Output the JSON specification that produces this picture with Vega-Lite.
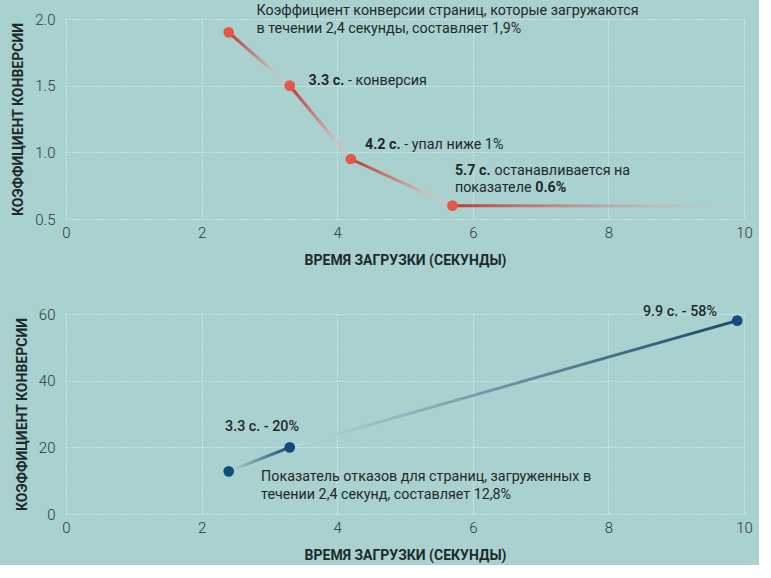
{
  "$schema": "https://vega.github.io/schema/vega-lite/v6.json",
  "background": "#a9d1d0",
  "padding": {"left": 11, "top": 4, "right": 6, "bottom": 3},
  "spacing": 38,
  "config": {
    "view": {"stroke": null},
    "font": "Roboto",
    "axis": {
      "domain": false,
      "ticks": false,
      "grid": true,
      "gridColor": "#ffffff",
      "gridDash": [1, 2],
      "gridOpacity": 0.85,
      "gridWidth": 1,
      "labelFont": "Roboto",
      "labelFontWeight": 300,
      "labelFontSize": 15,
      "labelColor": "#2b3838",
      "labelFlush": false,
      "titleFont": "Roboto",
      "titleFontWeight": "bold",
      "titleFontSize": 14,
      "titleColor": "#1e2a2a"
    },
    "axisX": {"labelPadding": 6, "titlePadding": 13},
    "axisY": {"labelPadding": 11, "titlePadding": 9}
  },
  "datasets": {
    "convMain": [
      {"seg": "a", "t": 2.4, "rate": 1.9},
      {"seg": "a", "t": 3.3, "rate": 1.5},
      {"seg": "b", "t": 3.3, "rate": 1.5},
      {"seg": "b", "t": 4.2, "rate": 0.95},
      {"seg": "c", "t": 4.2, "rate": 0.95},
      {"seg": "c", "t": 5.7, "rate": 0.6}
    ],
    "convTail": [
      {"seg": "d", "t": 5.7, "rate": 0.6},
      {"seg": "d", "t": 9.85, "rate": 0.598}
    ],
    "convPoints": [
      {"t": 2.4, "rate": 1.9},
      {"t": 3.3, "rate": 1.5},
      {"t": 4.2, "rate": 0.95},
      {"t": 5.7, "rate": 0.6}
    ],
    "convNotesNormal": [
      {"t": 2.81, "rate": 2.058, "label": "Коэффициент конверсии страниц, которые загружаются"},
      {"t": 2.81, "rate": 1.925, "label": "в течении 2,4 секунды, составляет 1,9%"},
      {"t": 4.16, "rate": 1.532, "label": "- конверсия"},
      {"t": 4.99, "rate": 1.056, "label": "- упал ниже 1%"},
      {"t": 6.32, "rate": 0.863, "label": "останавливается на"},
      {"t": 5.736, "rate": 0.735, "label": "показателе"}
    ],
    "convNotesBold": [
      {"t": 3.578, "rate": 1.532, "label": "3.3 с."},
      {"t": 4.41, "rate": 1.056, "label": "4.2 с."},
      {"t": 5.736, "rate": 0.863, "label": "5.7 с."},
      {"t": 6.92, "rate": 0.735, "label": "0.6%"}
    ],
    "bounceLine": [
      {"seg": "a", "t": 2.4, "rate": 12.8},
      {"seg": "a", "t": 3.3, "rate": 20},
      {"seg": "b", "t": 3.3, "rate": 20},
      {"seg": "b", "t": 9.9, "rate": 58}
    ],
    "bouncePoints": [
      {"t": 2.4, "rate": 12.8},
      {"t": 3.3, "rate": 20},
      {"t": 9.9, "rate": 58}
    ],
    "bounceNotesBold": [
      {"t": 8.51, "rate": 60.5, "label": "9.9 с. - 58%"},
      {"t": 2.346, "rate": 26.2, "label": "3.3 с. - 20%"}
    ],
    "bounceNotesNormal": [
      {"t": 2.877, "rate": 11.2, "label": "Показатель отказов для страниц, загруженных в"},
      {"t": 2.877, "rate": 5.7, "label": "течении 2,4 секунд, составляет 12,8%"}
    ]
  },
  "vconcat": [
    {
      "width": 678,
      "height": 200,
      "encoding": {
        "x": {"field": "t", "type": "quantitative", "scale": {"domain": [0, 10], "nice": false},
              "axis": {"values": [0, 2, 4, 6, 8, 10], "title": "ВРЕМЯ ЗАГРУЗКИ (СЕКУНДЫ)"}},
        "y": {"field": "rate", "type": "quantitative", "scale": {"domain": [0.5, 2.0], "nice": false, "zero": false},
              "axis": {"values": [0.5, 1.0, 1.5, 2.0], "format": ".1f", "title": "КОЭФФИЦИЕНТ КОНВЕРСИИ"}}
      },
      "layer": [
        {
          "data": {"name": "convMain"},
          "mark": {"type": "line", "strokeWidth": 3, "strokeCap": "round",
                   "stroke": {"gradient": "linear", "x1": 0, "y1": 0, "x2": 1, "y2": 0,
                              "stops": [{"offset": 0, "color": "#c0392b"}, {"offset": 0.75, "color": "#c9c3c1"}, {"offset": 1, "color": "#c8c8c8"}]}},
          "encoding": {"detail": {"field": "seg"}}
        },
        {
          "data": {"name": "convTail"},
          "mark": {"type": "line", "strokeWidth": 3, "strokeCap": "round",
                   "stroke": {"gradient": "linear", "x1": 0, "y1": 0, "x2": 1, "y2": 0,
                              "stops": [{"offset": 0, "color": "#c0392b"}, {"offset": 1, "color": "rgba(205,205,205,0.2)"}]}},
          "encoding": {"detail": {"field": "seg"}}
        },
        {
          "data": {"name": "convPoints"},
          "mark": {"type": "circle", "size": 115, "color": "#e5574a", "opacity": 1}
        },
        {
          "data": {"name": "convNotesNormal"},
          "mark": {"type": "text", "align": "left", "baseline": "middle", "fontSize": 14.3, "color": "#1e2a2a", "font": "Roboto"},
          "encoding": {"text": {"field": "label"}}
        },
        {
          "data": {"name": "convNotesBold"},
          "mark": {"type": "text", "align": "left", "baseline": "middle", "fontSize": 14.3, "fontWeight": "bold", "color": "#1e2a2a", "font": "Roboto"},
          "encoding": {"text": {"field": "label"}}
        }
      ]
    },
    {
      "width": 678,
      "height": 200,
      "encoding": {
        "x": {"field": "t", "type": "quantitative", "scale": {"domain": [0, 10], "nice": false},
              "axis": {"values": [0, 2, 4, 6, 8, 10], "title": "ВРЕМЯ ЗАГРУЗКИ (СЕКУНДЫ)"}},
        "y": {"field": "rate", "type": "quantitative", "scale": {"domain": [0, 60], "nice": false},
              "axis": {"values": [0, 20, 40, 60], "title": "КОЭФФИЦИЕНТ КОНВЕРСИИ"}}
      },
      "layer": [
        {
          "data": {"name": "bounceLine"},
          "mark": {"type": "line", "strokeWidth": 3, "strokeCap": "round",
                   "stroke": {"gradient": "linear", "x1": 0, "y1": 0, "x2": 1, "y2": 0,
                              "stops": [{"offset": 0, "color": "#bfd7dc"}, {"offset": 1, "color": "#17486b"}]}},
          "encoding": {"detail": {"field": "seg"}}
        },
        {
          "data": {"name": "bouncePoints"},
          "mark": {"type": "circle", "size": 115, "color": "#0f4d7a", "opacity": 1}
        },
        {
          "data": {"name": "bounceNotesBold"},
          "mark": {"type": "text", "align": "left", "baseline": "middle", "fontSize": 14.3, "fontWeight": 500, "color": "#1e2a2a", "font": "Roboto"},
          "encoding": {"text": {"field": "label"}}
        },
        {
          "data": {"name": "bounceNotesNormal"},
          "mark": {"type": "text", "align": "left", "baseline": "middle", "fontSize": 14.3, "color": "#1e2a2a", "font": "Roboto"},
          "encoding": {"text": {"field": "label"}}
        }
      ]
    }
  ]
}
